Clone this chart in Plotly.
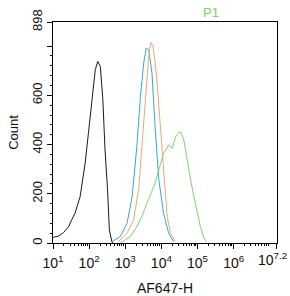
import plotly.graph_objects as go

# Histogram traces: x as log10(AF647-H), y as Count
black_log = [1.0, 1.15, 1.29, 1.43, 1.52, 1.61, 1.75, 1.89, 1.98, 2.07, 2.17, 2.24, 2.31, 2.38, 2.44, 2.51, 2.56, 2.63, 2.66]
black_cnt = [23, 28, 42, 66, 95, 121, 188, 324, 446, 582, 704, 738, 717, 582, 378, 216, 53, 5, 0]

blue_log = [2.63, 2.75, 2.86, 3.05, 3.19, 3.32, 3.42, 3.51, 3.58, 3.65, 3.74, 3.83, 3.93, 4.06, 4.2, 4.34]
blue_cnt = [5, 15, 26, 80, 188, 392, 595, 731, 792, 785, 690, 460, 256, 121, 40, 5]

orange_log = [2.81, 3.05, 3.23, 3.37, 3.46, 3.56, 3.65, 3.71, 3.77, 3.86, 3.97, 4.06, 4.16, 4.25, 4.39]
orange_cnt = [5, 40, 94, 216, 392, 595, 758, 815, 800, 690, 487, 297, 107, 40, 5]

green_log = [2.86, 3.14, 3.32, 3.46, 3.60, 3.79, 3.93, 4.06, 4.13, 4.20, 4.30, 4.39, 4.46, 4.53, 4.62, 4.71, 4.81, 4.90, 4.99, 5.08, 5.18, 5.25]
green_cnt = [0, 26, 66, 107, 162, 229, 297, 365, 380, 399, 385, 430, 445, 453, 419, 338, 256, 188, 121, 66, 19, 5]

series = [
    (black_log, black_cnt, "#1a1a1a"),
    (blue_log, blue_cnt, "#3aa6cc"),
    (orange_log, orange_cnt, "#f0a57a"),
    (green_log, green_cnt, "#7dd46a"),
]

x_major = [1, 2, 3, 4, 5, 6, 7.2]
x_major_text = ["10<sup>1</sup>", "10<sup>2</sup>", "10<sup>3</sup>", "10<sup>4</sup>",
                "10<sup>5</sup>", "10<sup>6</sup>", "10<sup>7.2</sup>"]
y_major = [0, 200, 400, 600, 800, 898]
y_major_text = ["0", "200", "400", "600", "", "898"]

FONT = "Liberation Sans, Arial, sans-serif"

fig = go.Figure()
for lg, cnt, col in series:
    fig.add_trace(go.Scatter(
        x=[10 ** v for v in lg], y=cnt, mode="lines",
        line=dict(color=col, width=1), showlegend=False, hoverinfo="skip"))

x_minor = [m * 10 ** d for d in range(1, 8) for m in range(2, 10) if m * 10 ** d < 10 ** 7.2]
y_minor = [v for v in range(0, 801, 40) if v not in y_major]
x_tickvals = [10 ** v for v in x_major]
x_tickvals[-1] = 10 ** 7.1995
# last label drawn separately so it stays inside the picture
x_ticktext = x_major_text[:-1] + [""]

fig.update_layout(
    width=290, height=296,
    margin=dict(l=53, r=13, t=22, b=53),
    paper_bgcolor="white", plot_bgcolor="white",
    font=dict(family=FONT, size=13, color="#111"),
    xaxis=dict(
        type="log", range=[1, 7.2], showgrid=False, zeroline=False, automargin=False,
        showline=True, linecolor="black", linewidth=1, mirror=True,
        ticks="outside", ticklen=5, tickcolor="black",
        tickvals=x_tickvals, ticktext=x_ticktext,
        tickfont=dict(size=14), ticklabelstandoff=2, ticklabeloverflow="allow",
        minor=dict(ticks="outside", ticklen=2, tickcolor="black", tickmode="array", tickvals=x_minor),
        title=dict(text="AF647-H", font=dict(size=14), standoff=13),
    ),
    yaxis=dict(
        range=[0, 898], showgrid=False, zeroline=False, automargin=False,
        showline=True, linecolor="black", linewidth=1, mirror=True,
        ticks="outside", ticklen=5, tickcolor="black",
        tickvals=y_major, ticktext=y_major_text, tickangle=-90,
        tickfont=dict(size=13),
        minor=dict(ticks="outside", ticklen=2, tickcolor="black", tickmode="array", tickvals=y_minor),
        title=dict(text="Count", font=dict(size=13), standoff=8),
    ),
    annotations=[
        dict(text="P1", xref="paper", yref="paper", x=0.705, y=1.0,
             xanchor="center", yanchor="bottom", showarrow=False,
             font=dict(size=13, color="#7dd46a")),
        dict(text=x_major_text[-1], xref="paper", yref="paper", x=1.0, y=0,
             xanchor="right", yanchor="top", xshift=12, yshift=-5, showarrow=False,
             font=dict(size=14, color="#111")),
    ],
)

fig.write_html("out.html")
